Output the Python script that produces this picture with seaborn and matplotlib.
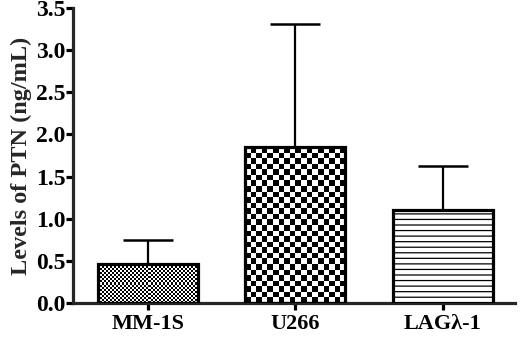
import numpy as np
import matplotlib
matplotlib.use("Agg")
import matplotlib.pyplot as plt
import seaborn as sns

# data
cells = ["MM-1S", "U266", "LAGλ-1"]
ptn_mean = [0.46, 1.85, 1.10]
ptn_sd = [0.29, 1.46, 0.53]
tick_vals = [0.0, 0.5, 1.0, 1.5, 2.0, 2.5, 3.0, 3.5]

sns.set_style("ticks")
plt.rcParams["font.family"] = ["Liberation Serif", "DejaVu Serif"]
plt.rcParams["font.weight"] = "bold"
plt.rcParams["hatch.linewidth"] = 0.9

fig = plt.figure(figsize=(5.2, 3.38), dpi=100)
ax = fig.add_axes([0.14, 0.104, 0.85, 0.872])

sns.barplot(x=cells, y=ptn_mean, ax=ax, width=0.68, color="white",
            edgecolor="black", linewidth=2.3, saturation=1, zorder=3)

ax.errorbar(range(len(cells)), ptn_mean, yerr=[[0] * len(cells), ptn_sd],
            fmt="none", ecolor="black", elinewidth=1.6, capsize=18,
            capthick=1.8, zorder=2)

ax.set_xlim(-0.51, 2.49)
ax.set_ylim(0, 3.5)
ax.set_yticks(tick_vals)
ax.set_yticklabels([f"{v:.1f}" for v in tick_vals])

# fill patterns: fine checker, coarse checker, horizontal lines
bars = ax.patches
checker_px = {0: 2.0, 1: 5.5}
for i, bar in enumerate(bars):
    if i in checker_px:
        bar.set_facecolor("none")
        bb = bar.get_window_extent()
        nx = max(1, int(round(bb.width / checker_px[i])))
        ny = max(1, int(round(bb.height / checker_px[i])))
        img = np.add.outer(np.arange(ny), np.arange(nx)) % 2
        x0, y0 = bar.get_x(), bar.get_y()
        im = ax.imshow(img, cmap="Greys", vmin=0, vmax=1, interpolation="nearest",
                       extent=[x0, x0 + bar.get_width(), y0, y0 + bar.get_height()],
                       aspect="auto", zorder=2.5)
        im.set_clip_path(bar)
    else:
        bar.set_hatch("---")
ax.set_xlim(-0.51, 2.49)
ax.set_ylim(0, 3.5)

sns.despine(ax=ax)
for s in ["left", "bottom"]:
    ax.spines[s].set_linewidth(2.3)
ax.tick_params(axis="both", width=2.3, length=5, colors="black")
ax.tick_params(axis="y", labelsize=17, pad=0)
ax.tick_params(axis="x", labelsize=16, pad=3)
for lab in ax.get_xticklabels() + ax.get_yticklabels():
    lab.set_fontweight("bold")

ax.set_ylabel("Levels of PTN (ng/mL)", fontsize=17.5, fontweight="bold", labelpad=3)
ax.set_xlabel("")

fig.savefig("out.png", dpi=100)
